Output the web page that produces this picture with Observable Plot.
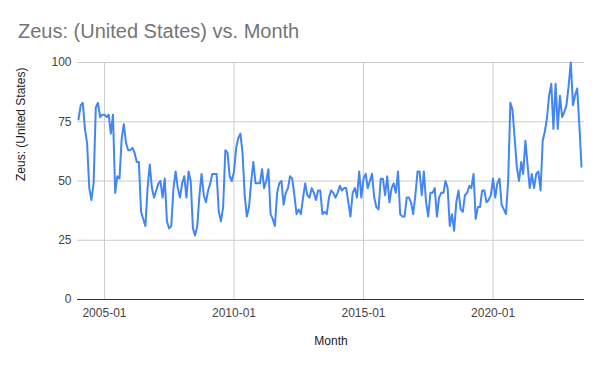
<!DOCTYPE html>
<html><head><meta charset="utf-8">
<script src="https://cdn.jsdelivr.net/npm/d3@7"></script>
<script src="https://cdn.jsdelivr.net/npm/@observablehq/plot@0.6"></script>
<style>
body{margin:0;background:#fff;}
#wrap{position:relative;width:600px;height:371px;font-family:"Liberation Sans",Arial,sans-serif;}
#title{position:absolute;left:18px;top:20px;font-size:20px;color:#757575;white-space:nowrap;}
#wrap svg{position:absolute;left:0;top:0;}
</style></head><body>
<div id="wrap"><div id="title"></div></div>
<script>
const titleText = "Zeus: (United States) vs. Month";
const xLabel = "Month";
const yLabel = "Zeus: (United States)";
const startMonth = "2004-01";
const values = [
  76,82,83,72,66,47,42,49,81,83,77,78,
  78,77,78,70,78,45,52,51,68,74,66,63,
  63,64,62,58,58,37,34,31,47,57,47,43,
  46,49,50,43,51,33,30,31,47,54,47,43,
  49,52,43,54,50,30,27,31,44,53,44,41,
  46,49,53,53,53,37,33,39,63,62,52,50,
  54,64,68,70,62,44,35,39,50,58,49,49,
  49,55,47,50,55,36,34,31,45,49,50,40,
  45,47,52,51,44,36,38,36,43,49,44,43,
  47,45,42,46,46,36,37,36,43,46,45,43,
  45,48,46,47,47,41,35,45,47,43,54,43,
  51,53,47,50,53,43,39,38,51,51,44,52,
  41,47,49,45,54,36,35,35,43,43,41,36,
  44,54,54,44,54,41,35,45,45,47,35,43,
  45,45,50,47,31,36,29,41,46,38,37,44,
  45,48,47,53,34,39,39,46,46,41,42,44,
  51,43,49,51,40,38,36,50,83,80,68,56,
  50,58,53,67,57,47,53,47,53,54,46,67,
  71,77,86,91,72,91,72,86,77,79,82,90,
  100,82,86,89,74,56
];
const xTicks = ["2005-01","2010-01","2015-01","2020-01"];
const yTicks = [0,25,50,75,100];

document.getElementById("title").textContent = titleText;

const parse = d3.utcParse("%Y-%m");
const start = parse(startMonth);
const data = values.map((v,i)=>({month: d3.utcMonth.offset(start,i), value: v}));
const font = '"Liberation Sans", Arial, sans-serif';

const chart = Plot.plot({
  width: 600, height: 371,
  marginTop: 62, marginBottom: 72, marginLeft: 77, marginRight: 16,
  style: {fontFamily: font, fontSize: "12px", color: "#444", background: "transparent", overflow: "visible"},
  x: {type: "utc", domain: [data[0].month, data[data.length-1].month], insetLeft: 1, insetRight: 3},
  y: {domain: [0, 100]},
  marks: [
    Plot.gridX(xTicks.map(parse), {stroke: "#cccccc", strokeOpacity: 1}),
    Plot.gridY(yTicks.filter(d => d > 0), {stroke: "#cccccc", strokeOpacity: 1}),
    Plot.axisX(xTicks.map(parse), {tickSize: 0, tickPadding: 9, tickFormat: d3.utcFormat("%Y-%m"), label: null, fill: "#444"}),
    Plot.axisY(yTicks, {tickSize: 0, tickPadding: 6, label: null, fill: "#444"}),
    Plot.ruleY([0], {stroke: "#333333"}),
    Plot.line(data, {x: "month", y: "value", stroke: "#4285F4", strokeWidth: 2}),
    Plot.text([xLabel], {frameAnchor: "bottom", dy: 45, fontSize: 12, fill: "#222"}),
    Plot.text([yLabel], {frameAnchor: "left", rotate: -90, dx: -56, fontSize: 12, fill: "#222"})
  ]
});
document.getElementById("wrap").appendChild(chart);
</script>
</body></html>
